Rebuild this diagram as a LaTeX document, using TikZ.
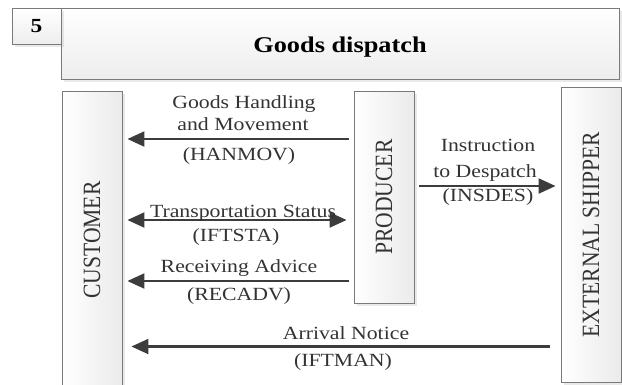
\documentclass[tikz,border=0pt]{standalone}
\usepackage{fontspec}
\usepackage{graphicx}
\setmainfont{Liberation Serif}[FakeStretch=1.17]
\newfontfamily\plainserif{Liberation Serif}
\usetikzlibrary{arrows.meta,shadows}

\definecolor{edge}{HTML}{7A7A7A}
\definecolor{ink}{HTML}{333333}
\definecolor{msg}{HTML}{3C3C3C}

\tikzset{
  panel/.style={draw=edge, line width=0.9pt, inner sep=0pt,
    drop shadow={shadow xshift=2.5pt, shadow yshift=-2.5pt, opacity=0.14, fill=black!60}},
  hpanel/.style={panel, top color=white, bottom color=black!7},
  vpanel/.style={panel, left color=white, right color=black!8},
  actor/.style={vpanel, minimum width=60pt, text=ink},
  msgarrow/.style={draw=msg, line width=2.2pt, -{Triangle[length=17pt,width=15pt]}},
  msgboth/.style={draw=msg, line width=2.2pt, {Triangle[length=17pt,width=15pt]}-{Triangle[length=17pt,width=15pt]}},
  lbl/.style={anchor=base, text=ink, inner sep=0pt, font=\fontsize{18.6}{22}\selectfont},
}

\newcommand{\actorname}[1]{\rotatebox{90}{\scalebox{1}[1.15]{\plainserif\fontsize{21.6}{24}\selectfont #1}}}

\begin{document}
\begin{tikzpicture}[x=1pt, y=-1pt]
  \useasboundingbox (0,0) rectangle (622,384);

  % heading
  \node[hpanel, minimum width=558pt, minimum height=71pt] (title) at (340,43.5) {};
  \node[anchor=base, inner sep=0pt] (titletext) at (340,52)
    {\fontsize{22.5}{26}\selectfont\bfseries Goods dispatch};
  \node[hpanel, minimum width=49pt, minimum height=36pt] (num) at (36.5,26)
    {\fontsize{20}{24}\selectfont\bfseries 5};

  % parties
  \node[actor, minimum height=298pt] (customer) at (92,240) {\actorname{CUSTOMER}};
  \node[actor, minimum height=212pt] (producer) at (384,197) {\actorname{PRODUCER}};
  \node[actor, minimum height=295pt] (shipper) at (591,234.5) {\actorname{EXTERNAL SHIPPER}};

  % messages
  \draw[msgarrow, shorten <=5pt, shorten >=5pt] (producer.west |- 0,139) -- (customer.east |- 0,139);
  \draw[msgboth, shorten <=5pt, shorten >=7pt] (customer.east |- 0,220) -- (producer.west |- 0,220);
  \draw[msgarrow, shorten <=5pt, shorten >=5pt] (producer.west |- 0,281) -- (customer.east |- 0,281);
  \draw[msgarrow, shorten <=5pt, shorten >=5pt] (producer.east |- 0,186) -- (shipper.west |- 0,186);
  \draw[msgarrow, shorten <=11pt, shorten >=9pt] (shipper.west |- 0,346.5) -- (customer.east |- 0,346.5);

  % message labels
  \node[lbl] (hanA) at (244,108.5) {Goods Handling};
  \node[lbl] (hanB) at (243,130) {and Movement};
  \node[lbl] (hanC) at (239,160) {(HANMOV)};

  \node[lbl] (staA) at (243,217) {Transportation Status};
  \node[lbl] (staB) at (236,241) {(IFTSTA)};

  \node[lbl] (recA) at (239,272) {Receiving Advice};
  \node[lbl] (recB) at (239,300) {(RECADV)};

  \node[lbl] (insA) at (488,151) {Instruction};
  \node[lbl] (insB) at (485,177.5) {to Despatch};
  \node[lbl] (insC) at (488,201) {(INSDES)};

  \node[lbl] (arrA) at (346,339) {Arrival Notice};
  \node[lbl] (arrB) at (343,366) {(IFTMAN)};
\end{tikzpicture}
\end{document}
